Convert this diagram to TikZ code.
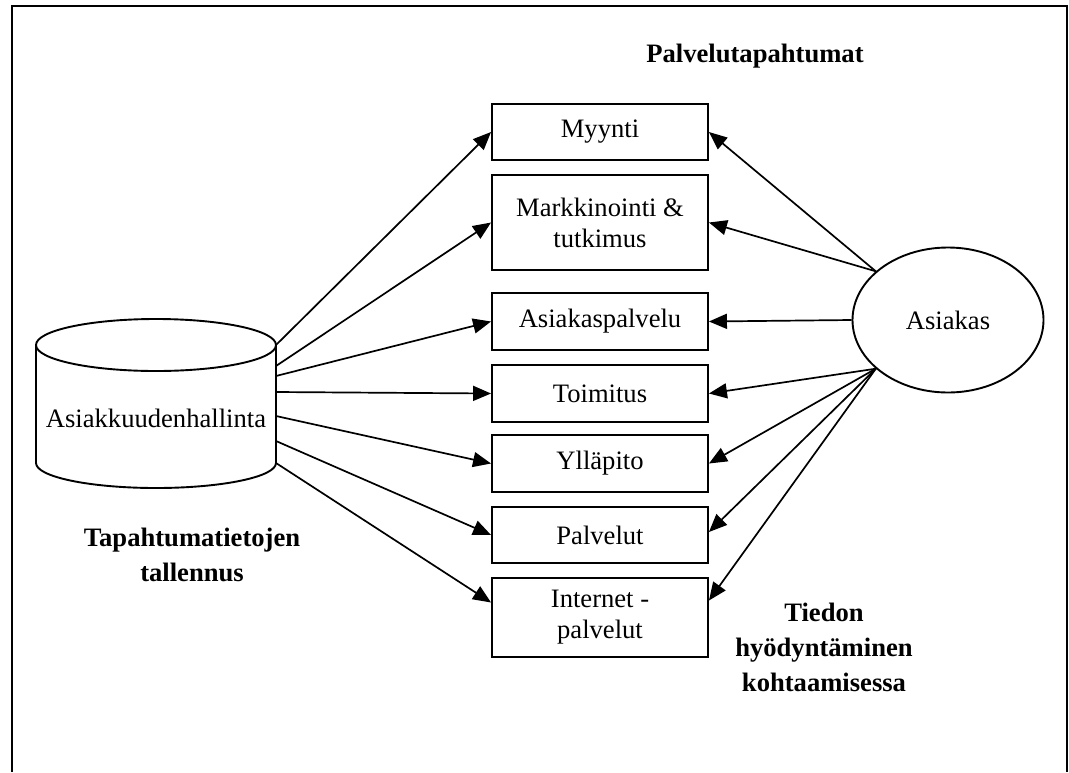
\documentclass[tikz,border=0pt]{standalone}
\usepackage{fontspec}
\setmainfont{Liberation Serif}
\usetikzlibrary{shapes.geometric,arrows.meta}
\begin{document}
\begin{tikzpicture}[x=1pt,y=-1pt,
  every node/.style={font=\fontsize{26.6}{31}\selectfont},
  box/.style={draw, line width=1.9pt, minimum width=216pt, inner sep=0pt, align=center},
  heading/.style={font=\fontsize{26.6}{35}\selectfont\bfseries, align=center, inner sep=0pt},
  flow/.style={line width=1.7pt, -{Triangle[length=18pt,width=15pt]}}]
\useasboundingbox (0,0) rectangle (1069,772);
% outer frame, open at the bottom
\draw[line width=2.4pt] (12,772) -- (12,6) -- (1067,6) -- (1067,772);

% database cylinder
\draw[line width=1.9pt] (156,345) ellipse [x radius=120, y radius=26];
\draw[line width=1.9pt] (36,345) -- (36,463)
  arc[start angle=180, end angle=0, x radius=120, y radius=25] -- (276,345);
\node[inner sep=0pt] (db) at (156,418) {Asiakkuudenhallinta};
\coordinate (d1) at (276,345);
\coordinate (d2) at (276,366);
\coordinate (d3) at (276,376);
\coordinate (d4) at (276,392);
\coordinate (d5) at (276,416);
\coordinate (d6) at (276,441);
\coordinate (d7) at (276,463);

% service events
\node[box, minimum height=56pt] (myynti) at (600,132) {\raisebox{-2pt}{Myynti}};
\node[box, minimum height=95pt] (markk) at (600,222.5) {Markkinointi \&\\tutkimus};
\node[box, minimum height=57pt] (apalvelu) at (600,321.5) {\raisebox{-2pt}{Asiakaspalvelu}};
\node[box, minimum height=57pt] (toimitus) at (600,393.5) {Toimitus};
\node[box, minimum height=57pt] (yllapito) at (600,463.5) {\raisebox{-2pt}{Ylläpito}};
\node[box, minimum height=56pt] (palvelut) at (600,535) {Palvelut};
\node[box, minimum height=79pt] (internet) at (600,617.5) {Internet -\\palvelut};

% customer
\node[ellipse, draw, line width=1.9pt, minimum width=191pt, minimum height=145pt, inner sep=0pt]
  (asiakas) at (948,320) {Asiakas};

% captions
\node[heading] (ht) at (755,56) {Palvelutapahtumat};
\node[heading] (hl) at (192,555) {Tapahtumatietojen\\tallennus};
\node[heading] (hr) at (824,647) {Tiedon\\hyödyntäminen\\kohtaamisessa};

% recording flows
\draw[flow] (d1) -- (myynti.west);
\draw[flow] (d2) -- (markk.west);
\draw[flow] (d3) -- (apalvelu.west);
\draw[flow] (d4) -- (toimitus.west);
\draw[flow] (d5) -- (yllapito.west);
\draw[flow] (d6) -- (palvelut.west);
\draw[flow] (d7) -- ([yshift=15pt]internet.west);

% utilisation flows
\draw[flow] (asiakas.146) -- (myynti.east);
\draw[flow] (asiakas.146) -- (markk.east);
\draw[flow] (asiakas.west) -- (apalvelu.east);
\draw[flow] (asiakas.214) -- (toimitus.east);
\draw[flow] (asiakas.214) -- (yllapito.east);
\draw[flow] (asiakas.214) -- ([yshift=3pt]palvelut.east);
\draw[flow] (asiakas.214) -- ([yshift=17pt]internet.east);
\end{tikzpicture}
\end{document}
